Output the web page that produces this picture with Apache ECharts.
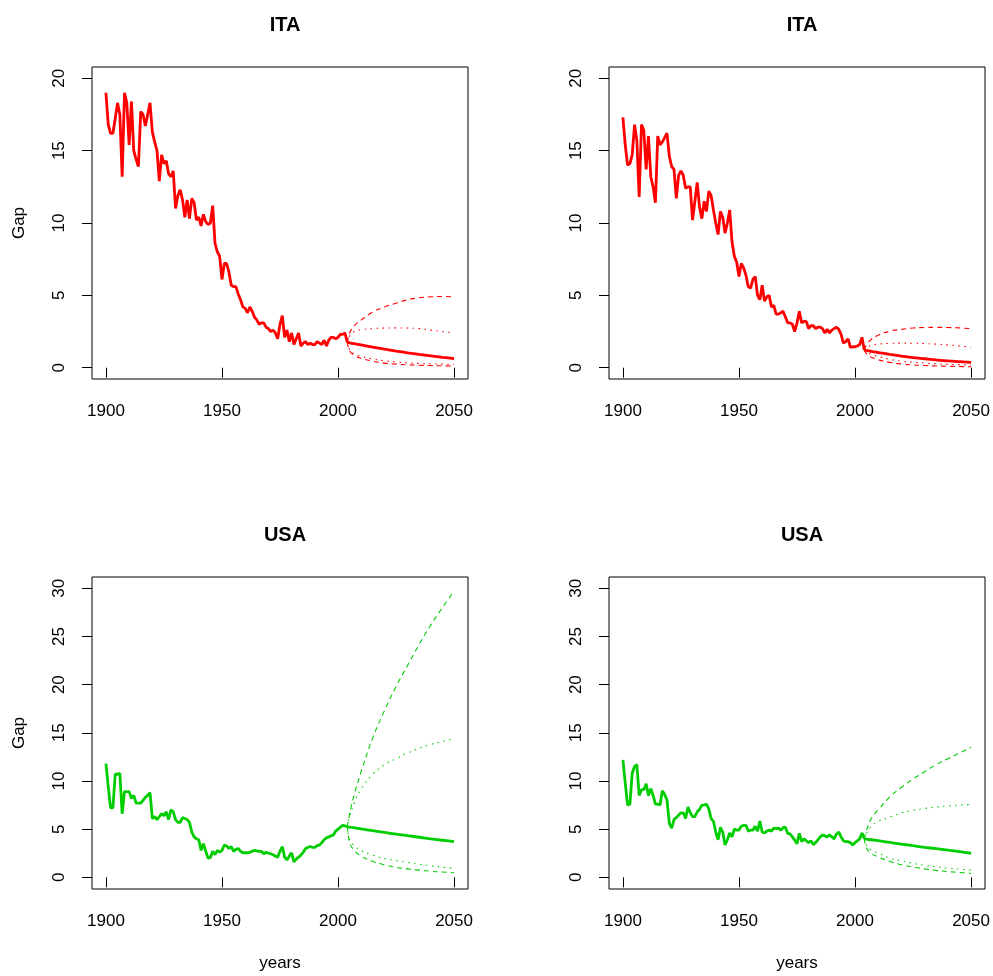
<!DOCTYPE html>
<html>
<head>
<meta charset="utf-8">
<script src="https://cdn.jsdelivr.net/npm/echarts@6/dist/echarts.min.js"></script>
<style>
  html, body { margin: 0; padding: 0; background: #fff; }
  #chart { width: 993px; height: 976px; }
</style>
</head>
<body>
<div id="chart"></div>
<script>
// observed gap, one value per year from 1900 to 2004
const firstYear = 1900

const itaGapA = [
  19.0, 16.8, 16.2, 16.2, 17.2, 18.3, 17.5, 13.2, 19.0, 18.3,
  15.4, 18.4, 15.0, 14.4, 13.9, 17.7, 17.5, 16.7, 17.5, 18.3,
  16.3, 15.6, 15.0, 12.9, 14.7, 14.1, 14.3, 13.4, 13.2, 13.6,
  11.0, 11.9, 12.3, 11.6, 10.4, 11.6, 10.3, 11.7, 11.4, 10.2,
  10.4, 9.8, 10.6, 10.1, 9.9, 10.0, 11.2, 8.6, 8.0, 7.7,
  6.1, 7.2, 7.2, 6.6, 5.7, 5.6, 5.6, 5.1, 4.7, 4.2,
  4.1, 3.8, 4.2, 3.9, 3.5, 3.3, 3.0, 3.1, 3.1, 2.8,
  2.7, 2.5, 2.6, 2.4, 2.0, 3.0, 3.6, 2.1, 2.6, 1.8,
  2.4, 1.6, 2.0, 2.4, 1.5, 1.7, 1.8, 1.6, 1.7, 1.6,
  1.6, 1.8, 1.7, 1.6, 1.9, 1.5, 1.9, 2.1, 2.1, 2.0,
  2.1, 2.3, 2.3, 2.4, 1.75
]

const itaGapB = [
  17.3, 15.4, 14.0, 14.1, 14.7, 16.8, 15.7, 11.8, 16.8, 16.4,
  13.7, 16.0, 13.2, 12.5, 11.4, 16.0, 15.4, 15.6, 15.9, 16.2,
  14.6, 13.9, 13.7, 11.7, 13.3, 13.6, 13.3, 12.4, 12.5, 12.5,
  10.2, 11.5, 12.8, 11.1, 10.3, 11.5, 10.8, 12.2, 11.9, 10.9,
  10.0, 9.2, 10.8, 10.4, 9.3, 10.0, 10.9, 8.7, 7.7, 7.3,
  6.3, 7.2, 6.9, 6.4, 5.6, 5.5, 6.1, 6.3, 5.0, 4.7,
  5.7, 4.6, 4.9, 5.0, 4.2, 4.3, 3.7, 3.7, 3.8, 3.9,
  3.5, 3.1, 3.1, 3.0, 2.5, 3.1, 3.9, 3.1, 3.2, 3.2,
  2.7, 2.9, 2.9, 2.7, 2.8, 2.8, 2.7, 2.4, 2.65, 2.4,
  2.6, 2.7, 2.8, 2.65, 2.3, 1.7, 1.8, 2.0, 1.4, 1.45,
  1.45, 1.5, 1.6, 2.1, 1.22
]

const usaGapA = [
  11.8, 9.4, 7.2, 7.2, 10.7, 10.7, 10.8, 6.6, 8.9, 8.9,
  8.9, 8.2, 8.5, 7.7, 7.7, 7.7, 8.0, 8.3, 8.5, 8.8,
  6.1, 6.3, 6.0, 6.3, 6.6, 6.4, 6.8, 6.0, 7.0, 6.8,
  6.0, 5.7, 5.7, 6.2, 6.1, 6.0, 5.7, 4.7, 4.2, 4.0,
  3.9, 2.8, 3.5, 2.7, 2.0, 2.05, 2.7, 2.35, 2.8, 2.6,
  2.8, 3.35, 3.25, 3.0, 3.2, 2.7, 2.9, 3.0, 2.7, 2.55,
  2.55, 2.55, 2.6, 2.7, 2.8, 2.75, 2.7, 2.7, 2.45, 2.6,
  2.5, 2.45, 2.35, 2.2, 2.1, 2.7, 3.2, 2.1, 1.8, 2.2,
  2.55, 1.6, 1.9, 2.1, 2.3, 2.6, 3.0, 3.1, 3.2, 3.1,
  3.1, 3.3, 3.35, 3.6, 3.9, 4.1, 4.2, 4.3, 4.4, 4.8,
  5.0, 5.2, 5.4, 5.35, 5.25
]

const usaGapB = [
  12.2, 9.8, 7.5, 7.6, 10.8, 11.5, 11.7, 8.5, 9.1, 9.1,
  9.7, 8.5, 9.2, 8.5, 7.6, 7.6, 7.5, 9.0, 8.6, 8.0,
  5.6, 5.1, 6.0, 6.2, 6.45, 6.7, 6.7, 6.1, 7.3, 6.7,
  6.3, 6.3, 6.8, 7.05, 7.5, 7.5, 7.6, 7.1, 6.1, 5.8,
  4.7, 3.9, 5.2, 4.7, 3.35, 3.9, 4.6, 4.2, 5.0, 4.9,
  4.9, 5.3, 5.4, 5.4, 4.8, 4.9, 4.9, 5.3, 4.8, 5.85,
  4.7, 4.6, 4.8, 4.9, 4.8, 5.1, 5.05, 5.1, 4.9, 5.15,
  5.2, 4.56, 4.5, 4.2, 3.87, 3.5, 4.56, 3.7, 4.0, 3.8,
  3.6, 3.8, 3.4, 3.6, 3.9, 4.2, 4.4, 4.3, 4.2, 4.4,
  4.2, 4.0, 4.5, 4.7, 4.2, 3.8, 3.7, 3.7, 3.6, 3.35,
  3.6, 3.8, 4.0, 4.6, 4.0
]

// forecasts: median, upper/lower dashed band, upper/lower dotted band
const fcYears = [2004, 2005, 2007, 2010, 2015, 2020, 2025, 2030, 2035, 2040, 2045, 2050]

const itaMedA = [1.75, 1.72, 1.66, 1.57, 1.42, 1.28, 1.15, 1.03, 0.92, 0.82, 0.72, 0.63]
const itaHiDashA = [1.75, 2.4, 2.9, 3.3, 3.85, 4.2, 4.45, 4.7, 4.83, 4.9, 4.92, 4.9]
const itaHiDotA = [1.75, 2.2, 2.5, 2.63, 2.7, 2.74, 2.75, 2.74, 2.7, 2.6, 2.5, 2.4]
const itaLoDotA = [1.75, 1.25, 0.95, 0.78, 0.6, 0.48, 0.4, 0.34, 0.3, 0.27, 0.25, 0.23]
const itaLoDashA = [1.75, 1.15, 0.85, 0.65, 0.45, 0.32, 0.25, 0.2, 0.17, 0.15, 0.13, 0.12]

const itaMedB = [1.22, 1.19, 1.13, 1.05, 0.92, 0.8, 0.7, 0.62, 0.54, 0.47, 0.42, 0.37]
const itaHiDashB = [1.22, 1.6, 1.95, 2.25, 2.52, 2.65, 2.74, 2.78, 2.79, 2.78, 2.75, 2.7]
const itaHiDotB = [1.22, 1.4, 1.55, 1.63, 1.68, 1.7, 1.69, 1.67, 1.63, 1.57, 1.5, 1.42]
const itaLoDotB = [1.22, 1.1, 0.92, 0.78, 0.58, 0.45, 0.38, 0.32, 0.27, 0.23, 0.21, 0.19]
const itaLoDashB = [1.22, 0.95, 0.72, 0.55, 0.37, 0.26, 0.19, 0.15, 0.12, 0.1, 0.08, 0.07]

const usaMedA = [5.25, 5.21, 5.14, 5.03, 4.84, 4.66, 4.49, 4.32, 4.16, 4.0, 3.85, 3.7]
const usaHiDashA = [5.25, 6.6, 8.6, 11.0, 14.5, 17.3, 19.8, 22.0, 24.2, 26.2, 28.0, 29.7]
const usaHiDotA = [5.25, 6.3, 7.7, 9.2, 10.7, 11.7, 12.3, 12.9, 13.4, 13.8, 14.1, 14.4]
const usaLoDotA = [5.25, 3.9, 3.3, 2.75, 2.3, 1.95, 1.75, 1.55, 1.35, 1.2, 1.05, 0.93]
const usaLoDashA = [5.25, 3.6, 2.8, 2.2, 1.65, 1.3, 1.05, 0.88, 0.75, 0.63, 0.55, 0.48]

const usaMedB = [4.0, 3.96, 3.9, 3.8, 3.62, 3.45, 3.28, 3.12, 2.97, 2.82, 2.67, 2.5]
const usaHiDashB = [4.0, 4.9, 6.1, 7.0, 8.35, 9.35, 10.2, 10.95, 11.7, 12.3, 12.9, 13.5]
const usaHiDotB = [4.0, 4.6, 5.3, 5.8, 6.25, 6.7, 6.95, 7.15, 7.3, 7.42, 7.5, 7.57]
const usaLoDotB = [4.0, 3.3, 2.85, 2.5, 2.0, 1.7, 1.45, 1.25, 1.1, 0.95, 0.85, 0.76]
const usaLoDashB = [4.0, 3.0, 2.5, 2.1, 1.65, 1.3, 1.08, 0.88, 0.72, 0.6, 0.5, 0.41]

const xTicks = [1900, 1950, 2000, 2050]
const itaTicks = [0, 5, 10, 15, 20]
const usaTicks = [0, 5, 10, 15, 20, 25, 30]

const RED = '#ff0000'
const GREEN = '#00cd00'
const FONT = 'Liberation Sans, Arial, Helvetica, sans-serif'

const panels = [
  { title: 'ITA', hist: itaGapA, med: itaMedA, hiDash: itaHiDashA, hiDot: itaHiDotA, loDot: itaLoDotA, loDash: itaLoDashA,
    color: RED, ticks: itaTicks, yMin: -0.78, yMax: 20.78, left: 92, top: 67, yName: 'Gap', xName: '' },
  { title: 'ITA', hist: itaGapB, med: itaMedB, hiDash: itaHiDashB, hiDot: itaHiDotB, loDot: itaLoDotB, loDash: itaLoDashB,
    color: RED, ticks: itaTicks, yMin: -0.78, yMax: 20.78, left: 609, top: 67, yName: '', xName: '' },
  { title: 'USA', hist: usaGapA, med: usaMedA, hiDash: usaHiDashA, hiDot: usaHiDotA, loDot: usaLoDotA, loDash: usaLoDashA,
    color: GREEN, ticks: usaTicks, yMin: -1.21, yMax: 31.17, left: 92, top: 577, yName: 'Gap', xName: 'years' },
  { title: 'USA', hist: usaGapB, med: usaMedB, hiDash: usaHiDashB, hiDot: usaHiDotB, loDot: usaLoDotB, loDash: usaLoDashB,
    color: GREEN, ticks: usaTicks, yMin: -1.21, yMax: 31.17, left: 609, top: 577, yName: '', xName: 'years' },
]

const pairs = (xs, ys) => ys.map((v, i) => [xs[i], v])
const histPairs = (ys) => ys.map((v, i) => [firstYear + i, v])
const plain = (v) => String(v)

function lineSeries(idx, data, color, width, type, smooth) {
  return {
    type: 'line',
    xAxisIndex: idx,
    yAxisIndex: idx,
    data: data,
    symbol: 'none',
    silent: true,
    smooth: smooth ? 0.4 : false,
    lineStyle: { color: color, width: width, type: type },
  }
}

const grid = []
const xAxis = []
const yAxis = []
const title = []
const series = []

panels.forEach((p, i) => {
  grid.push({
    left: p.left, top: p.top, width: 376, height: 312,
    show: true, borderColor: '#000', borderWidth: 1, backgroundColor: 'transparent',
  })
  title.push({
    text: p.title,
    left: p.left + 188,
    top: p.top - 57,
    textAlign: 'center',
    textStyle: { fontFamily: FONT, fontWeight: 'bold', fontSize: 20, color: '#000' },
  })
  xAxis.push({
    type: 'value', gridIndex: i, min: 1894, max: 2056,
    name: p.xName, nameLocation: 'middle', nameGap: 66,
    nameTextStyle: { fontFamily: FONT, fontSize: 17, color: '#000' },
    axisLine: { show: false },
    splitLine: { show: false },
    axisTick: { show: true, inside: false, length: 10, customValues: xTicks, lineStyle: { color: '#000', width: 1 } },
    axisLabel: { customValues: xTicks, formatter: plain, margin: 24, fontFamily: FONT, fontSize: 17, color: '#000' },
  })
  yAxis.push({
    type: 'value', gridIndex: i, min: p.yMin, max: p.yMax,
    name: p.yName, nameLocation: 'middle', nameGap: 64, nameRotate: 90,
    nameTextStyle: { fontFamily: FONT, fontSize: 17, color: '#000' },
    axisLine: { show: false },
    splitLine: { show: false },
    axisTick: { show: true, inside: false, length: 10, customValues: p.ticks, lineStyle: { color: '#000', width: 1 } },
    axisLabel: { customValues: p.ticks, formatter: plain, margin: 24, rotate: 90, fontFamily: FONT, fontSize: 17, color: '#000' },
  })

  series.push(lineSeries(i, histPairs(p.hist), p.color, 2.8, 'solid', false))
  series.push(lineSeries(i, pairs(fcYears, p.med), p.color, 2.8, 'solid', true))
  series.push(lineSeries(i, pairs(fcYears, p.hiDash), p.color, 1.1, [5, 4], true))
  series.push(lineSeries(i, pairs(fcYears, p.loDash), p.color, 1.1, [5, 4], true))
  series.push(lineSeries(i, pairs(fcYears, p.hiDot), p.color, 1.1, [1.5, 4.5], true))
  series.push(lineSeries(i, pairs(fcYears, p.loDot), p.color, 1.1, [1.5, 4.5], true))
})

const chart = echarts.init(document.getElementById('chart'), null, { renderer: 'canvas' })
chart.setOption({
  animation: false,
  backgroundColor: '#fff',
  title: title,
  grid: grid,
  xAxis: xAxis,
  yAxis: yAxis,
  series: series,
})
</script>
</body>
</html>
